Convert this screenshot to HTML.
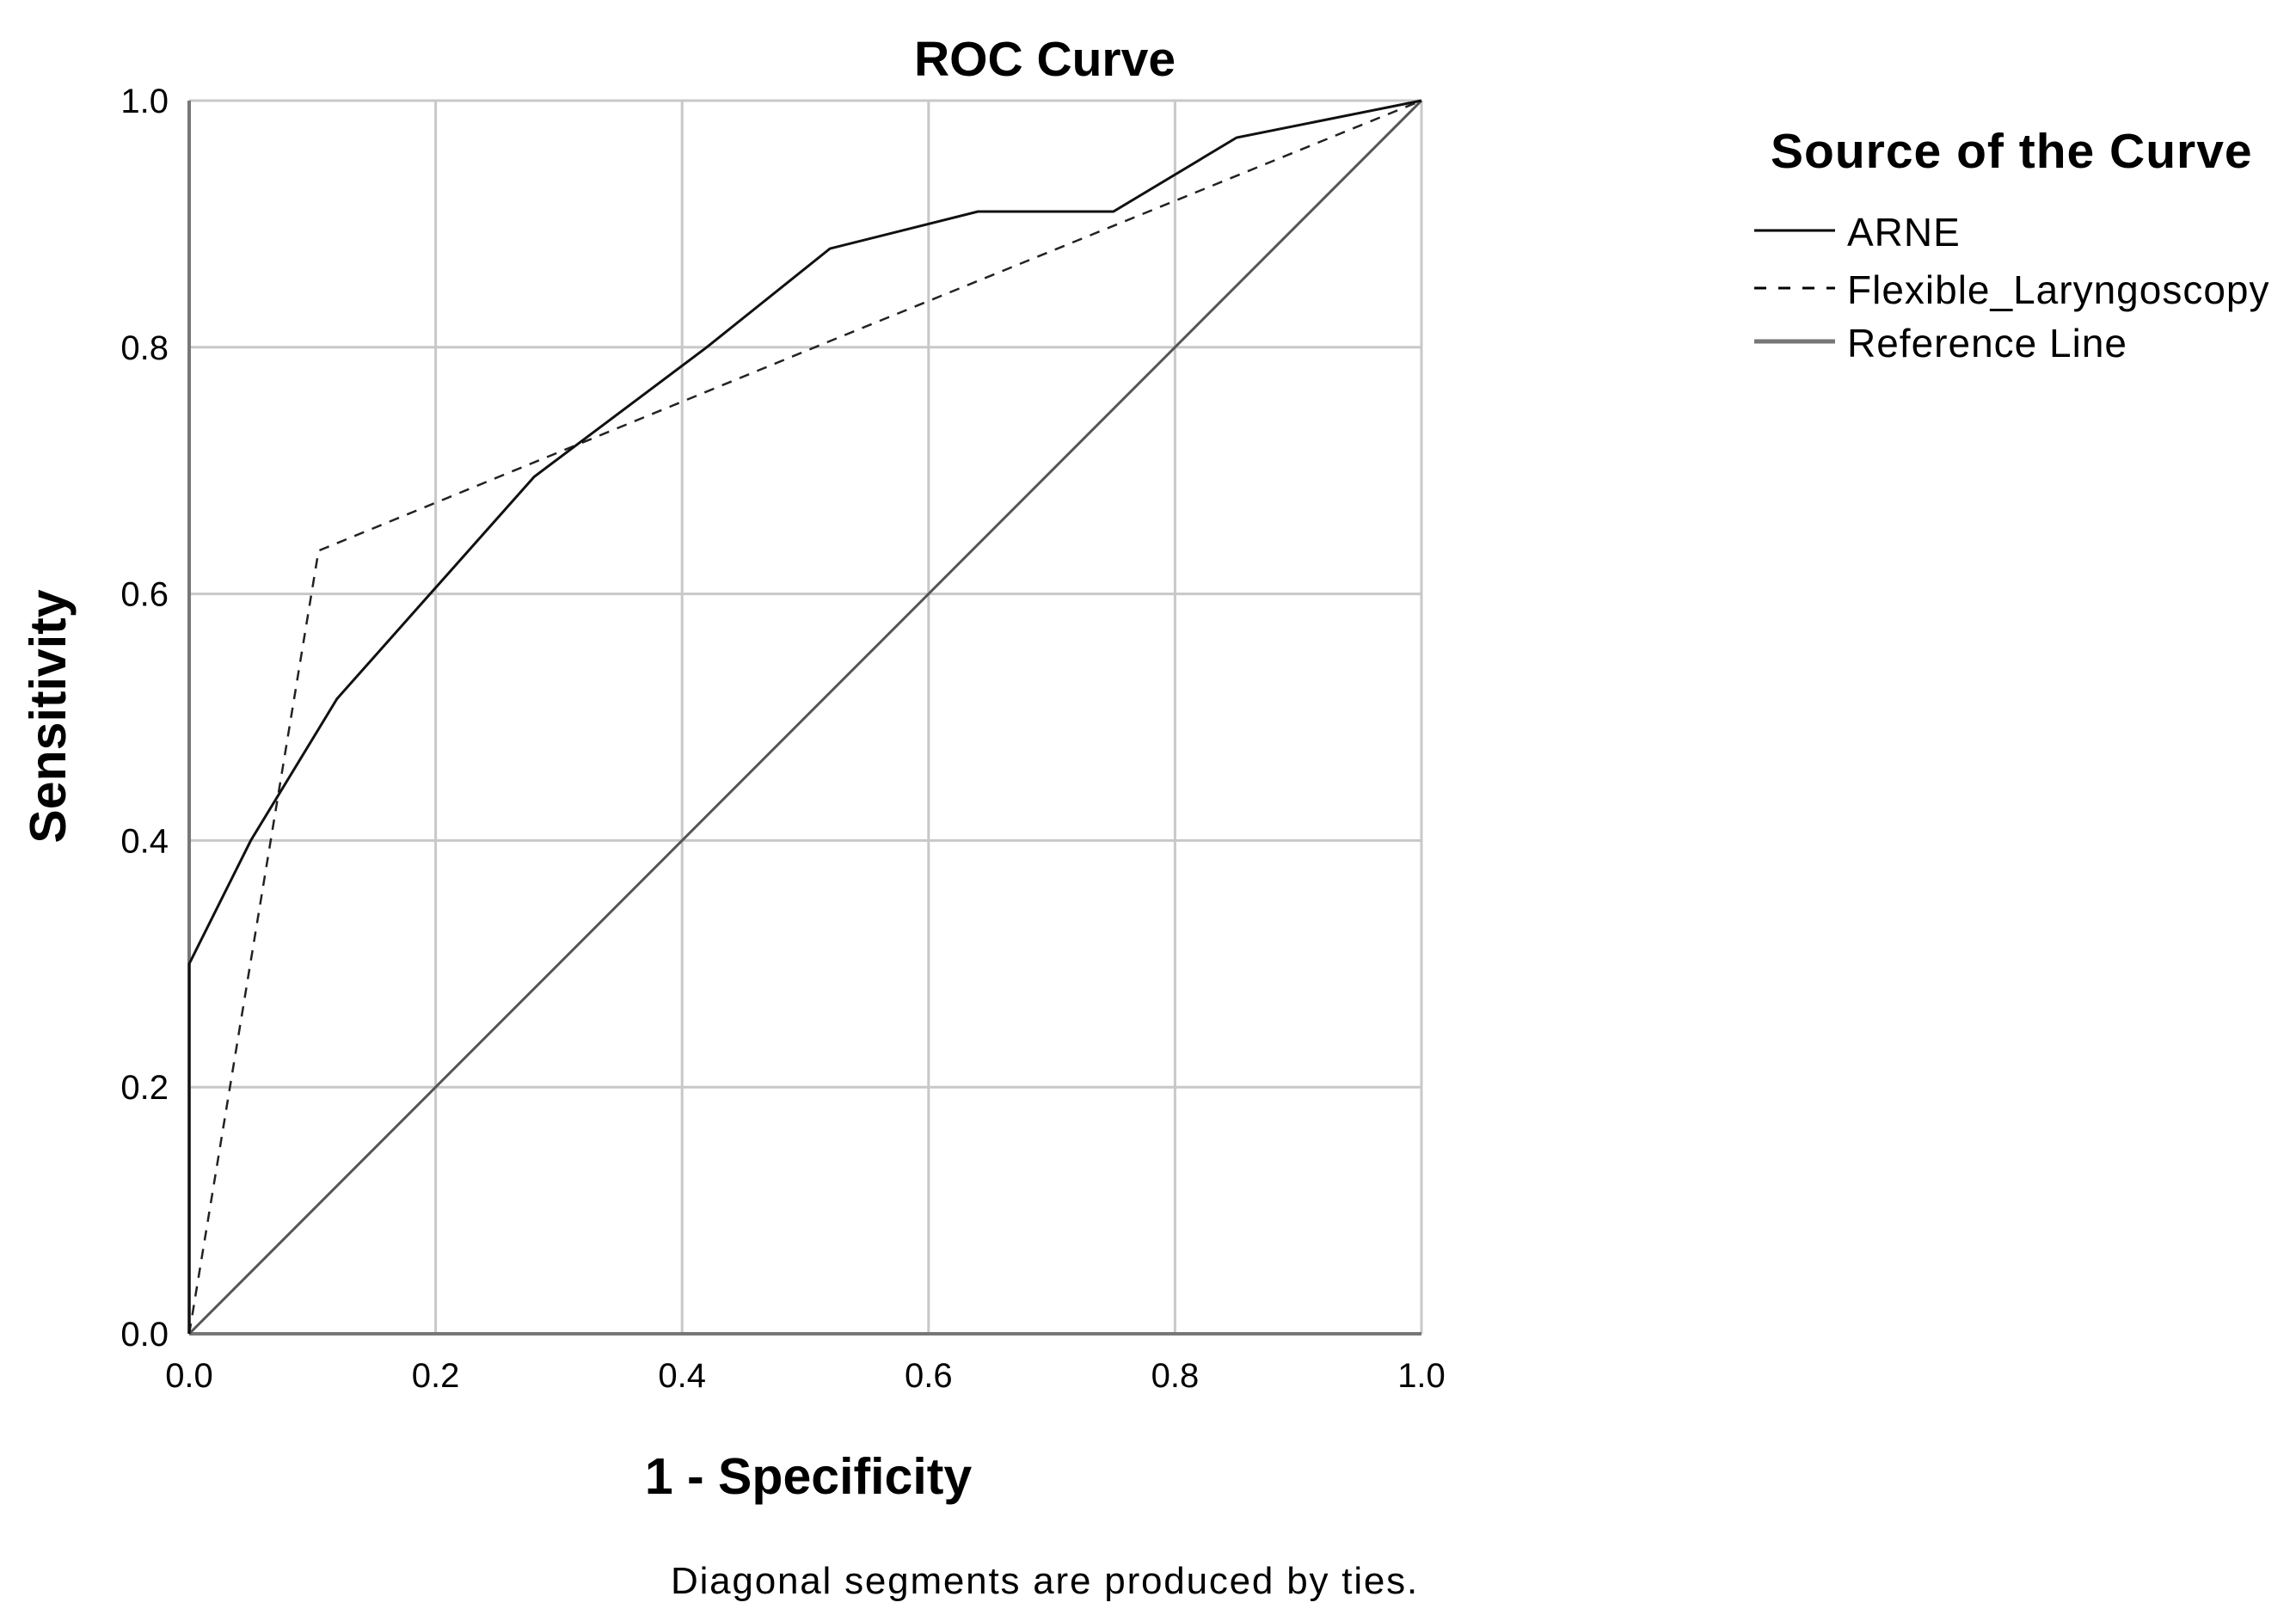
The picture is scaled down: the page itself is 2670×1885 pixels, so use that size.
<!DOCTYPE html>
<html><head><meta charset="utf-8"><style>
html,body{margin:0;padding:0;background:#fff;}
svg{display:block;font-family:"Liberation Sans",sans-serif;}
</style></head><body>
<svg id="chart" width="2670" height="1885" viewBox="0 0 2670 1885" xmlns="http://www.w3.org/2000/svg">
<rect width="2670" height="1885" fill="#fff"/>
<text x="1215" y="88" font-size="57" font-weight="bold" text-anchor="middle">ROC Curve</text>
<g id="grid"></g>
<g id="series"></g>
<g id="ticks"></g>
<text transform="translate(76,833) rotate(-90)" font-size="59" font-weight="bold" text-anchor="middle">Sensitivity</text>
<text x="940" y="1737" font-size="59" font-weight="bold" text-anchor="middle">1 - Specificity</text>
<text x="1215" y="1853" font-size="44" letter-spacing="1.8" text-anchor="middle">Diagonal segments are produced by ties.</text>
<g>
<text x="2059" y="195" font-size="57" font-weight="bold" letter-spacing="1">Source of the Curve</text>
<g>
<line x1="2040" y1="268" x2="2134" y2="268" stroke="#000" stroke-width="3"/>
<text x="2148" y="286" font-size="46" letter-spacing="1">ARNE</text></g>
<g>
<line x1="2040" y1="335" x2="2134" y2="335" stroke="#000" stroke-width="3" stroke-dasharray="14,14"/>
<text x="2148" y="353" font-size="46" letter-spacing="1">Flexible_Laryngoscopy</text></g>
<g>
<line x1="2040" y1="397" x2="2134" y2="397" stroke="#777" stroke-width="5"/>
<text x="2148" y="415" font-size="46" letter-spacing="1">Reference Line</text></g>
</g>
</svg>
<script>
const tickValues = [0, 0.2, 0.4, 0.6, 0.8, 1.0];
const tickLabels = ["0.0", "0.2", "0.4", "0.6", "0.8", "1.0"];
const arneX = [0, 0, 0.05, 0.12, 0.2, 0.28, 0.42, 0.52, 0.64, 0.75, 0.85, 1];
const arneY = [0, 0.30, 0.40, 0.515, 0.605, 0.695, 0.80, 0.88, 0.91, 0.91, 0.97, 1];
const flexX = [0, 0.105, 0.52, 1];
const flexY = [0, 0.635, 0.805, 1];
const refX = [0, 1];
const refY = [0, 1];

const L = 220, R = 1653, T = 117, B = 1551;
const sx = v => L + v * (R - L);
const sy = v => B - v * (B - T);
const NS = "http://www.w3.org/2000/svg";
function mk(tag, attrs, parent) {
  const e = document.createElementNS(NS, tag);
  for (const k in attrs) e.setAttribute(k, attrs[k]);
  parent.appendChild(e);
  return e;
}
const grid = document.getElementById('grid');
const ticks = document.getElementById('ticks');
const series = document.getElementById('series');
tickValues.forEach((v, i) => {
  const gv = mk('line', {x1: sx(v), x2: sx(v), y1: T, y2: B, stroke: '#c8c8c8', 'stroke-width': 3}, grid);
  
  
  const gh = mk('line', {x1: L, x2: R, y1: sy(v), y2: sy(v), stroke: '#c8c8c8', 'stroke-width': 3}, grid);
  
  
  const tx = mk('text', {x: sx(v), y: B + 62, 'font-size': 40, 'text-anchor': 'middle'}, ticks);
  tx.textContent = tickLabels[i];
  
  
  const ty = mk('text', {x: 196, y: sy(v) + 14, 'font-size': 40, 'text-anchor': 'end'}, ticks);
  ty.textContent = tickLabels[i];
  
  
});
const axL = mk('line', {x1: L, x2: L, y1: T, y2: B, stroke: '#777', 'stroke-width': 4}, grid);


const axB = mk('line', {x1: L, x2: R, y1: B, y2: B, stroke: '#777', 'stroke-width': 4}, grid);


function pts(xs, ys) { return xs.map((x, i) => sx(x) + ',' + sy(ys[i])).join(' '); }
const pr = mk('polyline', {points: pts(refX, refY), fill: 'none', stroke: '#555', 'stroke-width': 3}, series);


const pf = mk('polyline', {points: pts(flexX, flexY), fill: 'none', stroke: '#222', 'stroke-width': 2.5, 'stroke-dasharray': '12,10'}, series);


const pa = mk('polyline', {points: pts(arneX, arneY), fill: 'none', stroke: '#111', 'stroke-width': 3}, series);


</script>
</body></html>
